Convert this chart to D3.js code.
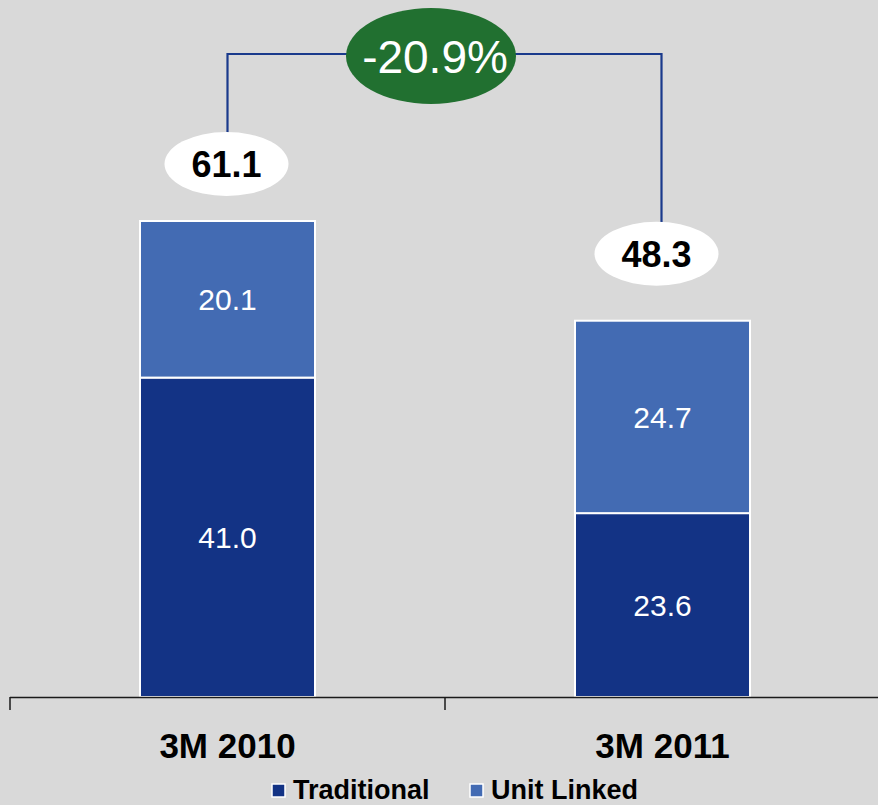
<!DOCTYPE html>
<html>
<head>
<meta charset="utf-8">
<script src="https://cdn.jsdelivr.net/npm/d3@7"></script>
<style>
  html, body { margin: 0; padding: 0; background: #d9d9d9; }
  svg { display: block; font-family: Arial, "Liberation Sans", sans-serif; }
</style>
</head>
<body>
<svg id="chart" width="878" height="805"></svg>
<script>
// Premiums by period, split into traditional and unit-linked business
const categories = ["3M 2010", "3M 2011"];
const traditional = [41.0, 23.6];
const unitLinked = [20.1, 24.7];
const totals = [61.1, 48.3];
const changeLabel = "-20.9%";
const seriesNames = ["Traditional", "Unit Linked"];

const colors = { "Traditional": "#133385", "Unit Linked": "#436bb3" };

const W = 878, H = 805;
const svg = d3.select("#chart");
svg.append("rect").attr("width", W).attr("height", H).attr("fill", "#d9d9d9");

const baseY = 697;
const x = d3.scaleBand().domain(categories).range([10, 880]).paddingInner(0).paddingOuter(0);
const y = d3.scaleLinear().domain([0, 61.1]).range([baseY, 221]);
const barW = 175;

const rows = categories.map((c, i) => ({
  cat: c,
  "Traditional": traditional[i],
  "Unit Linked": unitLinked[i],
  total: totals[i]
}));

const stack = d3.stack().keys(seriesNames)(rows);

const g = svg.append("g");
stack.forEach(layer => {
  const key = layer.key;
  layer.forEach(d => {
    const cx = x(d.data.cat) + x.bandwidth() / 2;
    g.append("rect")
      .attr("x", cx - barW / 2)
      .attr("y", y(d[1]))
      .attr("width", barW)
      .attr("height", y(d[0]) - y(d[1]))
      .attr("fill", colors[key])
      .attr("stroke", "#ffffff")
      .attr("stroke-width", 2);
    g.append("text")
      .attr("x", cx)
      .attr("y", (y(d[0]) + y(d[1])) / 2)
      .attr("dy", "0.36em")
      .attr("text-anchor", "middle")
      .attr("fill", "#ffffff")
      .attr("font-size", 30)
      .text(d.data[key].toFixed(1));
  });
});

// Category axis along the baseline
const axis = svg.append("g").attr("transform", `translate(0,${baseY})`);
axis.append("line")
  .attr("x1", 10).attr("x2", W)
  .attr("y1", 0.5).attr("y2", 0.5)
  .attr("stroke", "#1a1a1a").attr("stroke-width", 1.5);
const tickXs = [x(categories[0]), x(categories[1])];
axis.selectAll("line.tick").data(tickXs).enter().append("line")
  .attr("class", "tick")
  .attr("x1", d => d).attr("x2", d => d)
  .attr("y1", 0).attr("y2", 13)
  .attr("stroke", "#1a1a1a").attr("stroke-width", 1.5);
axis.selectAll("text.cat").data(categories).enter().append("text")
  .attr("class", "cat")
  .attr("x", d => x(d) + x.bandwidth() / 2)
  .attr("y", 61)
  .attr("text-anchor", "middle")
  .attr("font-size", 35)
  .attr("font-weight", "bold")
  .attr("fill", "#000")
  .text(d => d);

// Total bubbles above each bar
const bubbleOffset = [57, 67];
const bubbleShift = [-1, -6];
const bubbles = rows.map((r, i) => ({
  cx: x(r.cat) + x.bandwidth() / 2 + bubbleShift[i],
  cy: y(r.total) - bubbleOffset[i],
  total: r.total
}));

// Bracket connecting the two totals
const bracketY = 54;
const lx = x(categories[0]) + x.bandwidth() / 2;
const rx = x(categories[1]) + x.bandwidth() / 2 - 1;
svg.append("path")
  .attr("d", `M${lx},${bubbles[0].cy - 31} V${bracketY} H${rx} V${bubbles[1].cy - 31}`)
  .attr("fill", "none")
  .attr("stroke", "#1a3a8c")
  .attr("stroke-width", 2.2);

bubbles.forEach(b => {
  svg.append("ellipse")
    .attr("cx", b.cx).attr("cy", b.cy)
    .attr("rx", 62).attr("ry", 32)
    .attr("fill", "#ffffff");
  svg.append("text")
    .attr("x", b.cx).attr("y", b.cy)
    .attr("dy", "0.36em")
    .attr("text-anchor", "middle")
    .attr("font-size", 36)
    .attr("font-weight", "bold")
    .attr("fill", "#000")
    .text(b.total.toFixed(1));
});

// Change bubble
const midX = 431;
svg.append("ellipse")
  .attr("cx", midX).attr("cy", 56)
  .attr("rx", 85).attr("ry", 48)
  .attr("fill", "#217030");
svg.append("text")
  .attr("x", midX + 4).attr("y", 56)
  .attr("dy", "0.36em")
  .attr("text-anchor", "middle")
  .attr("font-size", 46)
  .attr("fill", "#ffffff")
  .text(changeLabel);

// Legend
const legendItems = [
  { name: seriesNames[0], sx: 272 },
  { name: seriesNames[1], sx: 470 }
];
const legend = svg.append("g");
legendItems.forEach(it => {
  legend.append("rect")
    .attr("x", it.sx).attr("y", 784)
    .attr("width", 13).attr("height", 13)
    .attr("fill", colors[it.name])
    .attr("stroke", "#ffffff").attr("stroke-width", 1.5);
  legend.append("text")
    .attr("x", it.sx + 21).attr("y", 799)
    .attr("font-size", 27)
    .attr("font-weight", "bold")
    .attr("fill", "#000")
    .text(it.name);
});
</script>
</body>
</html>
